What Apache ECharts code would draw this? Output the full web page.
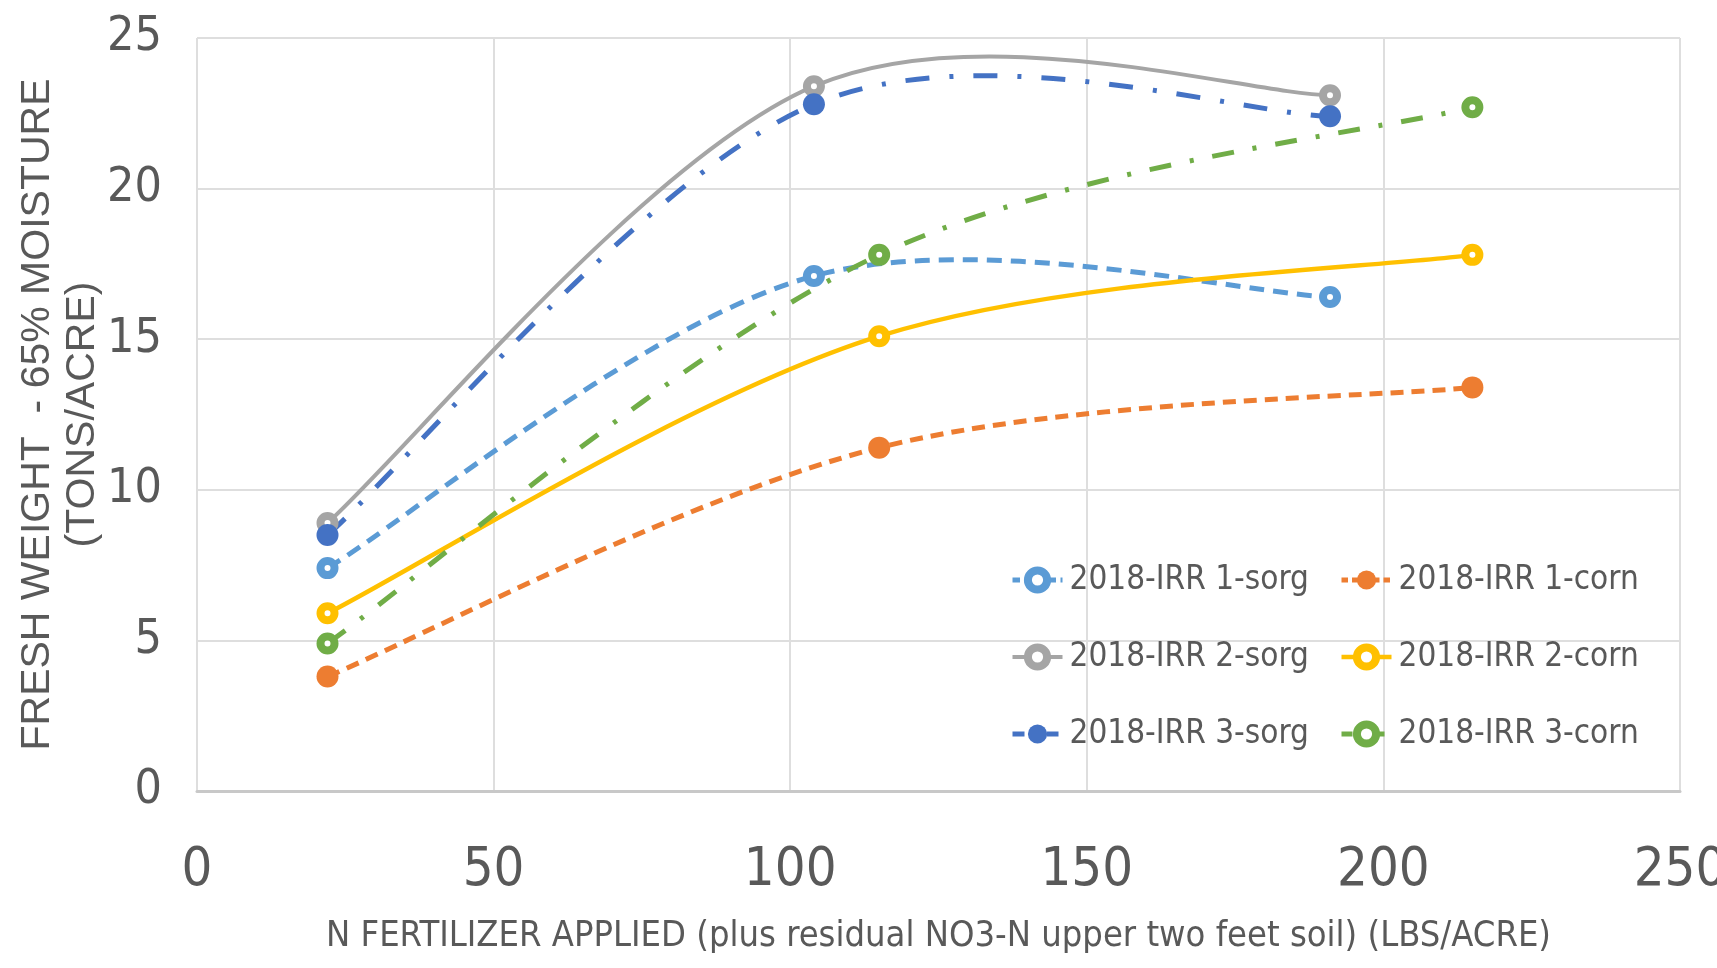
<!DOCTYPE html>
<html>
<head>
<meta charset="utf-8">
<script src="https://cdn.jsdelivr.net/npm/echarts@6/dist/echarts.min.js"></script>
<style>
  html, body { margin: 0; padding: 0; background: #fff; }
  #chart { width: 1717px; height: 968px; }
</style>
</head>
<body>
<div id="chart"></div>
<script>
// N applied (lbs/acre) for the sorghum and corn plots
const sorgN = [22, 104, 191];
const cornN = [22, 115, 215];

// Fresh weight at 65% moisture (tons/acre)
const irr1Sorg = [7.4, 17.1, 16.4];
const irr1Corn = [3.8, 11.4, 13.4];
const irr2Sorg = [8.9, 23.4, 23.1];
const irr2Corn = [5.9, 15.1, 17.8];
const irr3Sorg = [8.5, 22.8, 22.4];
const irr3Corn = [4.9, 17.8, 22.7];

const seriesNames = [
  '2018-IRR 1-sorg', '2018-IRR 1-corn',
  '2018-IRR 2-sorg', '2018-IRR 2-corn',
  '2018-IRR 3-sorg', '2018-IRR 3-corn'
];

const xTicks = [0, 50, 100, 150, 200, 250];
const yTicks = [0, 5, 10, 15, 20, 25];

const NARROW = '"Liberation Sans Narrow", "DejaVu Sans Condensed", "Liberation Sans", sans-serif';
const TEXT = '#595959';

function pairs(xs, ys) { return xs.map((x, i) => [x, ys[i]]); }

// Smoothed curve: cubic Bezier segments with Catmull-Rom style tangents
// computed in pixel space from the data points projected by the axes.
function curveRenderer(xs, ys, color, dash, width) {
  return function (params, api) {
    if (params.dataIndex !== 0) return null;
    const pts = xs.map((x, i) => api.coord([x, ys[i]]));
    const n = pts.length;
    let d = 'M' + pts[0][0] + ' ' + pts[0][1];
    for (let i = 0; i < n - 1; i++) {
      const p0 = pts[Math.max(i - 1, 0)];
      const p1 = pts[i];
      const p2 = pts[i + 1];
      const p3 = pts[Math.min(i + 2, n - 1)];
      const c1x = p1[0] + (p2[0] - p0[0]) / 6, c1y = p1[1] + (p2[1] - p0[1]) / 6;
      const c2x = p2[0] - (p3[0] - p1[0]) / 6, c2y = p2[1] - (p3[1] - p1[1]) / 6;
      d += ' C' + c1x + ' ' + c1y + ' ' + c2x + ' ' + c2y + ' ' + p2[0] + ' ' + p2[1];
    }
    return {
      type: 'path',
      silent: true,
      shape: { pathData: d },
      style: {
        fill: 'none',
        stroke: color,
        lineWidth: width,
        lineDash: dash === 'solid' ? null : dash,
        lineCap: 'butt',
        lineJoin: 'round'
      }
    };
  };
}

const styles = [
  { xs: sorgN, ys: irr1Sorg, color: '#5B9BD5', dash: [15, 9], width: 5, hollow: true },
  { xs: cornN, ys: irr1Corn, color: '#ED7D31', dash: [13, 8], width: 5, hollow: false },
  { xs: sorgN, ys: irr2Sorg, color: '#A5A5A5', dash: 'solid', width: 4, hollow: true },
  { xs: cornN, ys: irr2Corn, color: '#FFC000', dash: 'solid', width: 4.5, hollow: true },
  { xs: sorgN, ys: irr3Sorg, color: '#4472C4', dash: [24, 20, 4, 20], width: 5, hollow: false },
  { xs: cornN, ys: irr3Corn, color: '#70AD47', dash: [22, 19, 4, 19], width: 5, hollow: true }
];

function markerStyle(s) {
  return s.hollow
    ? { color: '#ffffff', borderColor: s.color, borderWidth: 8, opacity: 1 }
    : { color: s.color, borderColor: s.color, borderWidth: 0, opacity: 1 };
}

const series = [];
styles.forEach((s, k) => {
  // the curve itself
  series.push({
    name: seriesNames[k] + ' curve',
    type: 'custom',
    coordinateSystem: 'cartesian2d',
    data: pairs(s.xs, s.ys),
    renderItem: curveRenderer(s.xs, s.ys, s.color, s.dash, s.width),
    silent: true,
    z: 2 + k * 0.01
  });
  // the data point markers
  series.push({
    name: seriesNames[k],
    type: 'line',
    data: pairs(s.xs, s.ys),
    symbol: 'circle',
    symbolSize: s.hollow ? 14 : 22,
    showSymbol: true,
    lineStyle: { opacity: 0, color: s.color },
    itemStyle: markerStyle(s),
    emphasis: { disabled: true },
    silent: true,
    z: 3
  });
});

function legendItem(k) {
  const s = styles[k];
  return {
    name: seriesNames[k],
    itemStyle: markerStyle(s),
    lineStyle: {
      color: s.color, width: s.width, opacity: 1,
      type: s.dash === 'solid' ? 'solid' : s.dash.map(v => v * 0.5)
    }
  };
}

const legendCommon = {
  orient: 'vertical',
  itemWidth: 50,
  itemHeight: 24,
  itemGap: 37,
  selectedMode: false,
  textStyle: { color: TEXT, fontFamily: NARROW, fontSize: 33, lineHeight: 40, padding: [0, 0, 0, 2] }
};

const chart = echarts.init(document.getElementById('chart'), null, { renderer: 'canvas' });

chart.setOption({
  animation: false,
  backgroundColor: '#ffffff',
  grid: { left: 197, right: 37, top: 38, bottom: 177, containLabel: false, outerBoundsMode: 'none' },
  legend: [
    Object.assign({}, legendCommon, { left: 1005, top: 555,
      data: [legendItem(0), legendItem(2), legendItem(4)] }),
    Object.assign({}, legendCommon, { left: 1334, top: 555,
      data: [legendItem(1), legendItem(3), legendItem(5)] })
  ],
  xAxis: {
    type: 'value',
    min: xTicks[0],
    max: xTicks[xTicks.length - 1],
    interval: xTicks[1] - xTicks[0],
    name: 'N FERTILIZER APPLIED (plus residual NO3-N upper two feet soil) (LBS/ACRE)',
    nameLocation: 'middle',
    nameGap: 128,
    nameMoveOverlap: false,
    nameTextStyle: { color: TEXT, fontFamily: NARROW, fontSize: 36 },
    axisLine: { show: true, lineStyle: { color: '#c8c8c8', width: 3 } },
    axisTick: { show: false },
    axisLabel: { color: TEXT, fontFamily: NARROW, fontSize: 54, margin: 53 },
    splitLine: { show: true, lineStyle: { color: '#dedede', width: 2 } }
  },
  yAxis: {
    type: 'value',
    min: yTicks[0],
    max: yTicks[yTicks.length - 1],
    interval: yTicks[1] - yTicks[0],
    name: 'FRESH WEIGHT  - 65% MOISTURE\n(TONS/ACRE)',
    nameLocation: 'middle',
    nameRotate: 90,
    nameGap: 92,
    nameMoveOverlap: false,
    nameTextStyle: { color: TEXT, fontFamily: '"Liberation Sans", sans-serif', fontSize: 41, lineHeight: 45, align: 'center' },
    axisLine: { show: false },
    axisTick: { show: false },
    axisLabel: { color: TEXT, fontFamily: NARROW, fontSize: 48, margin: 35 },
    splitLine: { show: true, lineStyle: { color: '#dedede', width: 2 } }
  },
  series: series
});
</script>
</body>
</html>
